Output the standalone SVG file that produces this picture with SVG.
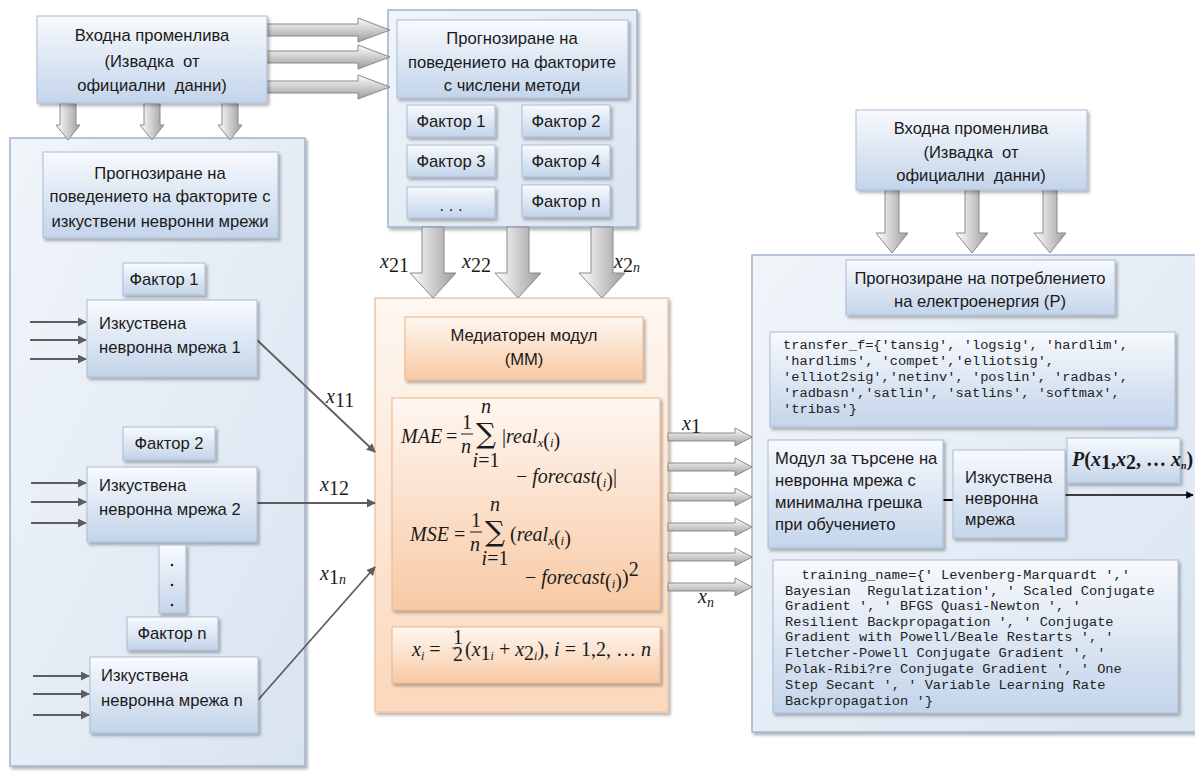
<svg xmlns="http://www.w3.org/2000/svg" width="1195" height="774" viewBox="0 0 1195 774">
<style>
.t{font-family:"Liberation Sans",Arial,sans-serif;font-size:16.6px;fill:#1a1a1a}
.c{text-anchor:middle}
.mono{font-family:"Liberation Mono","Courier New",monospace;font-size:13.7px;fill:#222}
.m{font-family:"Liberation Serif","Times New Roman",serif;font-style:italic;font-size:20px;fill:#1a1a1a}
.mu{font-family:"Liberation Serif","Times New Roman",serif;font-style:normal;font-size:20px;fill:#1a1a1a}
.sum{font-family:"DejaVu Serif",serif;font-style:normal;font-size:28px;fill:#1a1a1a;text-anchor:middle}
.box{fill:url(#gBox);stroke:#a8bbd5;stroke-width:1;filter:url(#sh)}
.panel{fill:url(#gPanel);stroke:#9fb3cf;stroke-width:1.5;filter:url(#sh)}
.opanel{fill:url(#gOP);stroke:#f0c6a4;stroke-width:1.5;filter:url(#sh)}
.obox{fill:url(#gOB);stroke:#eeb48a;stroke-width:1;filter:url(#sh)}
.av{fill:url(#gAV);stroke:#8a8a8a;stroke-width:1}
.ah{fill:url(#gAH);stroke:#8a8a8a;stroke-width:1}
.ln{stroke:#5e5e5e;stroke-width:1.8;fill:none;marker-end:url(#mk)}
</style>
<defs>
<linearGradient id="gBox" x1="0" y1="0" x2="0" y2="1"><stop offset="0" stop-color="#f8fafd"/><stop offset="1" stop-color="#c3d4ea"/></linearGradient>
<linearGradient id="gPanel" x1="0" y1="0" x2="1" y2="1"><stop offset="0" stop-color="#f1f5fa"/><stop offset="1" stop-color="#d9e4f1"/></linearGradient>
<linearGradient id="gOP" x1="0" y1="0" x2="0" y2="1"><stop offset="0" stop-color="#fef7f1"/><stop offset="1" stop-color="#fbd8bd"/></linearGradient>
<linearGradient id="gOB" x1="0" y1="0" x2="0" y2="1"><stop offset="0" stop-color="#fef7f1"/><stop offset="1" stop-color="#f8c9a4"/></linearGradient>
<linearGradient id="gAV" x1="0" y1="0" x2="1" y2="0"><stop offset="0" stop-color="#ffffff"/><stop offset="1" stop-color="#9c9c9c"/></linearGradient>
<linearGradient id="gAH" x1="0" y1="0" x2="0" y2="1"><stop offset="0" stop-color="#ffffff"/><stop offset="1" stop-color="#9c9c9c"/></linearGradient>
<filter id="sh" x="-10%" y="-10%" width="130%" height="130%"><feDropShadow dx="2" dy="2.5" stdDeviation="1.5" flood-color="#000" flood-opacity="0.3"/></filter>
<marker id="mk" viewBox="0 0 10 10" refX="9" refY="5" markerWidth="5" markerHeight="5" orient="auto"><path d="M0,0 L10,5 L0,10 Z" fill="#5e5e5e"/></marker>
<marker id="mkb" viewBox="0 0 10 10" refX="9" refY="5" markerWidth="5" markerHeight="5" orient="auto"><path d="M0,0 L10,5 L0,10 Z" fill="#000"/></marker>
</defs>
<rect width="1195" height="774" fill="#ffffff"/>

<!-- panels -->
<g id="panel-left"><rect class="panel" x="10" y="138" width="295" height="628"/></g>
<g id="panel-numeric"><rect class="panel" x="388" y="10" width="249" height="217"/></g>
<g id="panel-mediator"><rect class="opanel" x="375" y="298" width="293" height="414"/></g>
<g id="panel-right"><rect class="panel" x="752" y="255" width="450" height="477"/></g>

<!-- connectors -->
<g id="connectors">
  <path class="ah" d="M267,24 H358 V18 L390,30 L358,42 V36 H267 Z"/>
  <path class="ah" d="M267,51 H358 V45 L390,57 L358,69 V63 H267 Z"/>
  <path class="ah" d="M267,81 H358 V75 L390,87 L358,99 V93 H267 Z"/>
  <path class="av" d="M60,103 V125 H56 L68,140 L80,125 H76 V103 Z"/>
  <path class="av" d="M144,103 V125 H140 L152,140 L164,125 H160 V103 Z"/>
  <path class="av" d="M222,103 V125 H218 L230,140 L242,125 H238 V103 Z"/>
  <path class="av" d="M422,227 V273 H410 L433,298 L456,273 H444 V227 Z"/>
  <path class="av" d="M507,227 V273 H495 L518,298 L541,273 H529 V227 Z"/>
  <path class="av" d="M591,227 V273 H579 L602,298 L625,273 H613 V227 Z"/>
  <path class="av" d="M885,190 V233 H876 L892,253 L908,233 H899 V190 Z"/>
  <path class="av" d="M965,190 V233 H956 L972,253 L988,233 H979 V190 Z"/>
  <path class="av" d="M1043,190 V233 H1034 L1050,253 L1066,233 H1057 V190 Z"/>
  <path class="ah" d="M668,433 H735 V428 L752,437 L735,446 V441 H668 Z"/>
  <path class="ah" d="M668,463 H735 V458 L752,467 L735,476 V471 H668 Z"/>
  <path class="ah" d="M668,493 H735 V488 L752,497 L735,506 V501 H668 Z"/>
  <path class="ah" d="M668,523 H735 V518 L752,527 L735,536 V531 H668 Z"/>
  <path class="ah" d="M668,553 H735 V548 L752,557 L735,566 V561 H668 Z"/>
  <path class="ah" d="M668,583 H735 V578 L752,587 L735,596 V591 H668 Z"/>
  <line class="ln" x1="30" y1="322" x2="86" y2="322"/>
  <line class="ln" x1="30" y1="340" x2="86" y2="340"/>
  <line class="ln" x1="30" y1="359" x2="86" y2="359"/>
  <line class="ln" x1="31" y1="483" x2="86" y2="483"/>
  <line class="ln" x1="31" y1="502" x2="86" y2="502"/>
  <line class="ln" x1="31" y1="523" x2="86" y2="523"/>
  <line class="ln" x1="33" y1="676" x2="89" y2="676"/>
  <line class="ln" x1="33" y1="694" x2="89" y2="694"/>
  <line class="ln" x1="33" y1="715" x2="89" y2="715"/>
  <line class="ln" x1="257" y1="340" x2="375" y2="452"/>
  <line class="ln" x1="257" y1="503" x2="375" y2="503"/>
  <line class="ln" x1="258" y1="700" x2="375" y2="567"/>
  <line x1="943" y1="500" x2="953" y2="500" stroke="#000" stroke-width="2"/>
  <line x1="1065" y1="495" x2="1193" y2="495" stroke="#000" stroke-width="1.5" marker-end="url(#mkb)"/>
  <text class="m" x="380" y="268">x<tspan class="mu" font-size="14" dy="4">21</tspan></text>
  <text class="m" x="462" y="268">x<tspan class="mu" font-size="14" dy="4">22</tspan></text>
  <text class="m" x="614" y="268">x<tspan class="mu" font-size="14" dy="4">2</tspan><tspan font-size="14">n</tspan></text>
  <text class="m" x="326" y="403">x<tspan class="mu" font-size="14" dy="4">11</tspan></text>
  <text class="m" x="320" y="491">x<tspan class="mu" font-size="14" dy="4">12</tspan></text>
  <text class="m" x="320" y="580">x<tspan class="mu" font-size="14" dy="4">1</tspan><tspan font-size="14">n</tspan></text>
  <text class="m" x="682" y="430" font-size="17">x<tspan class="mu" font-size="12" dy="3">1</tspan></text>
  <text class="m" x="698" y="603">x<tspan font-size="14" dy="4">n</tspan></text>
</g>

<!-- top-left input -->
<g id="input-left">
  <rect class="box" x="37" y="16" width="230" height="87"/>
  <text class="t c" x="152" y="41">Входна променлива</text>
  <text class="t c" x="152" y="67" xml:space="preserve">(Извадка  от</text>
  <text class="t c" x="152" y="91" xml:space="preserve">официални  данни)</text>
</g>

<!-- numeric methods -->
<g id="numeric-title">
  <rect class="box" x="397" y="20" width="231" height="78"/>
  <text class="t c" x="512" y="44">Прогнозиране на</text>
  <text class="t c" x="512" y="68">поведението на факторите</text>
  <text class="t c" x="512" y="91">с числени методи</text>
</g>
<g id="nf1"><rect class="box" x="407" y="105" width="88" height="32"/><text class="t c" x="451" y="127">Фактор 1</text></g>
<g id="nf2"><rect class="box" x="522" y="105" width="88" height="32"/><text class="t c" x="566" y="127">Фактор 2</text></g>
<g id="nf3"><rect class="box" x="407" y="145" width="88" height="32"/><text class="t c" x="451" y="167">Фактор 3</text></g>
<g id="nf4"><rect class="box" x="522" y="145" width="88" height="32"/><text class="t c" x="566" y="167">Фактор 4</text></g>
<g id="nfdots"><rect class="box" x="407" y="187" width="88" height="31"/><text class="t c" x="451" y="211" xml:space="preserve">. . .</text></g>
<g id="nfn"><rect class="box" x="522" y="185" width="88" height="32"/><text class="t c" x="566" y="207">Фактор n</text></g>

<!-- left panel content -->
<g id="ann-title">
  <rect class="box" x="43" y="152" width="235" height="86"/>
  <text class="t c" x="160" y="179">Прогнозиране на</text>
  <text class="t c" x="160" y="202">поведението на факторите с</text>
  <text class="t c" x="160" y="227">изкуствени невронни мрежи</text>
</g>
<g id="lf1"><rect class="box" x="123" y="263" width="82" height="32"/><text class="t c" x="164" y="285">Фактор 1</text></g>
<g id="nn1"><rect class="box" x="87" y="300" width="170" height="77"/><text class="t" x="99" y="329">Изкуствена</text><text class="t" x="99" y="353">невронна мрежа 1</text></g>
<g id="lf2"><rect class="box" x="123" y="427" width="92" height="33"/><text class="t c" x="169" y="449">Фактор 2</text></g>
<g id="nn2"><rect class="box" x="87" y="467" width="170" height="75"/><text class="t" x="99" y="491">Изкуствена</text><text class="t" x="99" y="515">невронна мрежа 2</text></g>
<g id="ldots"><rect class="box" x="159" y="545" width="27" height="68"/><circle cx="172" cy="565" r="1.3" fill="#222"/><circle cx="172" cy="585" r="1.3" fill="#222"/><circle cx="172" cy="605" r="1.3" fill="#222"/></g>
<g id="lfn"><rect class="box" x="127" y="617" width="91" height="33"/><text class="t c" x="172" y="639">Фактор n</text></g>
<g id="nnn"><rect class="box" x="90" y="657" width="168" height="76"/><text class="t" x="101" y="681">Изкуствена</text><text class="t" x="101" y="706">невронна мрежа n</text></g>

<!-- mediator -->
<g id="mm-title">
  <rect class="obox" x="405" y="317" width="238" height="63"/>
  <text class="t c" x="524" y="341">Медиаторен модул</text>
  <text class="t c" x="524" y="365">(ММ)</text>
</g>
<g id="mm-formulas">
  <rect class="obox" x="392" y="398" width="268" height="212"/>
  <text class="m" x="401" y="443">MAE</text>
  <text class="mu" x="446" y="443">=</text>
  <text class="mu" x="462" y="429" font-size="17">1</text>
  <line x1="461" y1="434" x2="473" y2="434" stroke="#1a1a1a" stroke-width="1"/>
  <text class="m" x="461" y="453">n</text>
  <text class="sum" x="486" y="443">∑</text>
  <text class="m" x="486" y="413" font-size="13" text-anchor="middle">n</text>
  <text class="m" x="486" y="467" font-size="13" text-anchor="middle">i<tspan class="mu" font-size="13">=1</tspan></text>
  <text class="m" x="502" y="443"><tspan class="mu">|</tspan>real<tspan font-size="13" dy="4">x</tspan><tspan class="mu" font-size="13">(</tspan><tspan font-size="13">i</tspan><tspan class="mu" font-size="13">)</tspan></text>
  <text class="m" x="516" y="483"><tspan class="mu">−</tspan> forecast<tspan class="mu" font-size="13" dy="4">(</tspan><tspan font-size="13">i</tspan><tspan class="mu" font-size="13">)</tspan><tspan class="mu" dy="-4">|</tspan></text>
  <text class="m" x="410" y="541">MSE</text>
  <text class="mu" x="454" y="541">=</text>
  <text class="mu" x="471" y="527" font-size="17">1</text>
  <line x1="470" y1="532" x2="482" y2="532" stroke="#1a1a1a" stroke-width="1"/>
  <text class="m" x="470" y="551">n</text>
  <text class="sum" x="495" y="541">∑</text>
  <text class="m" x="495" y="511" font-size="13" text-anchor="middle">n</text>
  <text class="m" x="495" y="565" font-size="13" text-anchor="middle">i<tspan class="mu" font-size="13">=1</tspan></text>
  <text class="m" x="510" y="541"><tspan class="mu">(</tspan>real<tspan font-size="13" dy="4">x</tspan><tspan class="mu" font-size="13">(</tspan><tspan font-size="13">i</tspan><tspan class="mu" font-size="13">)</tspan></text>
  <text class="m" x="525" y="584"><tspan class="mu">−</tspan> forecast<tspan class="mu" font-size="13" dy="4">(</tspan><tspan font-size="13">i</tspan><tspan class="mu" font-size="13">)</tspan><tspan class="mu" dy="-4">)</tspan><tspan class="mu" font-size="13" dy="-8">2</tspan></text>
</g>
<g id="mm-mean">
  <rect class="obox" x="392" y="627" width="268" height="56"/>
  <text class="m" x="412" y="656" font-size="18">x<tspan font-size="12" dy="4">i</tspan><tspan class="mu" font-size="18" dy="-4"> =</tspan></text>
  <text class="mu" font-size="10"><tspan x="453" y="644">1</tspan><tspan x="453" y="661">2</tspan></text>
  <line x1="452" y1="648" x2="459" y2="648" stroke="#1a1a1a" stroke-width="0.8"/>
  <text class="m" x="465" y="656" font-size="18"><tspan class="mu" font-size="18">(</tspan>x<tspan class="mu" font-size="12" dy="4">1</tspan><tspan font-size="12">i</tspan><tspan class="mu" font-size="18" dy="-4"> + </tspan>x<tspan class="mu" font-size="12" dy="4">2</tspan><tspan font-size="12">i</tspan><tspan class="mu" font-size="18" dy="-4">),</tspan> i<tspan class="mu" font-size="18"> = 1,2, … </tspan>n</text>
</g>

<!-- right side -->
<g id="input-right">
  <rect class="box" x="856" y="110" width="231" height="80"/>
  <text class="t c" x="971" y="134">Входна променлива</text>
  <text class="t c" x="971" y="158" xml:space="preserve">(Извадка  от</text>
  <text class="t c" x="971" y="181" xml:space="preserve">официални  данни)</text>
</g>
<g id="forecast-title">
  <rect class="box" x="846" y="260" width="269" height="55"/>
  <text class="t c" x="980" y="284">Прогнозиране на потреблението</text>
  <text class="t c" x="980" y="307">на електроенергия (P)</text>
</g>
<g id="transfer">
  <rect class="box" x="770" y="332" width="405" height="95"/>
  <text class="mono" x="783" y="349">transfer_f={'tansig', 'logsig', 'hardlim',</text>
  <text class="mono" x="783" y="365">'hardlims', 'compet','elliotsig',</text>
  <text class="mono" x="783" y="381">'elliot2sig','netinv', 'poslin', 'radbas',</text>
  <text class="mono" x="783" y="397">'radbasn','satlin', 'satlins', 'softmax',</text>
  <text class="mono" x="783" y="413">'tribas'}</text>
</g>
<g id="search-module">
  <rect class="box" x="768" y="440" width="175" height="108"/>
  <text class="t" x="775" y="464">Модул за търсене на</text>
  <text class="t" x="775" y="486">невронна мрежа с</text>
  <text class="t" x="775" y="508">минимална грешка</text>
  <text class="t" x="775" y="530">при обучението</text>
</g>
<g id="nn-right">
  <rect class="box" x="953" y="450" width="112" height="88"/>
  <text class="t" x="965" y="483">Изкуствена</text>
  <text class="t" x="965" y="504">невронна</text>
  <text class="t" x="965" y="525">мрежа</text>
</g>
<g id="p-box">
  <rect class="box" x="1067" y="438" width="113" height="45"/>
  <text class="m" x="1072" y="466" font-size="14" font-weight="bold">P<tspan class="mu" font-size="14" font-weight="bold">(</tspan>x<tspan class="mu" font-size="10" dy="3" font-weight="bold">1</tspan><tspan class="mu" font-size="14" dy="-3" font-weight="bold">,</tspan>x<tspan class="mu" font-size="10" dy="3" font-weight="bold">2</tspan><tspan class="mu" font-size="14" dy="-3" font-weight="bold">, … </tspan>x<tspan font-size="10" dy="3">n</tspan><tspan class="mu" font-size="14" dy="-3" font-weight="bold">)</tspan></text>
</g>
<g id="training">
  <rect class="box" x="773" y="560" width="405" height="153"/>
  <text class="mono" x="785" y="579" xml:space="preserve">  training_name={' Levenberg-Marquardt ',' </text>
  <text class="mono" x="785" y="595" xml:space="preserve">Bayesian  Regulatization', ' Scaled Conjugate</text>
  <text class="mono" x="785" y="610">Gradient ', ' BFGS Quasi-Newton ', '</text>
  <text class="mono" x="785" y="626">Resilient Backpropagation ', ' Conjugate</text>
  <text class="mono" x="785" y="641">Gradient with Powell/Beale Restarts ', '</text>
  <text class="mono" x="785" y="657">Fletcher-Powell Conjugate Gradient ', '</text>
  <text class="mono" x="785" y="673">Polak-Ribi?re Conjugate Gradient ', ' One</text>
  <text class="mono" x="785" y="689">Step Secant ', ' Variable Learning Rate</text>
  <text class="mono" x="785" y="705">Backpropagation '}</text>
</g>
</svg>
